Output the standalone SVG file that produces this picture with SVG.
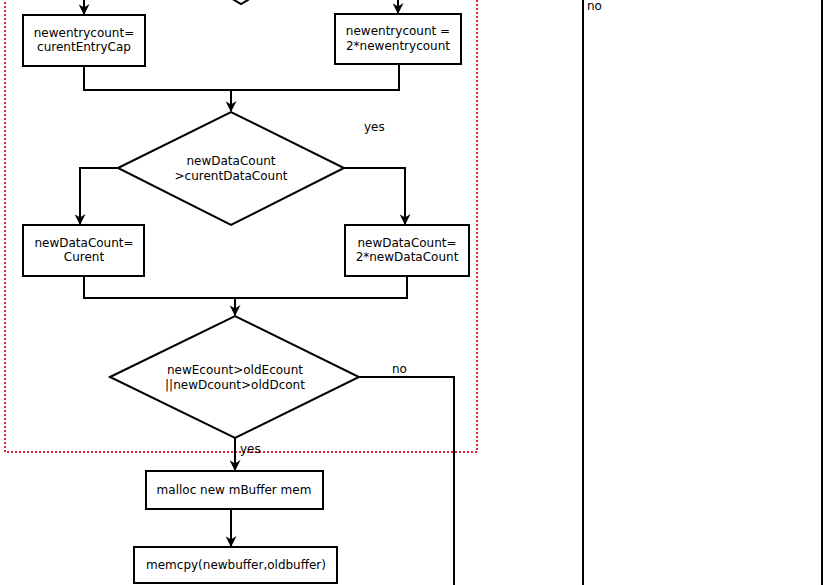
<svg xmlns="http://www.w3.org/2000/svg" width="828" height="585" viewBox="0 0 828 585">
<defs>
<marker id="arr" viewBox="0 0 10 10" refX="9" refY="5" markerWidth="11" markerHeight="11" markerUnits="userSpaceOnUse" orient="auto">
<path d="M0,0 L10,5 L0,10 L3,5 Z" fill="#000"/>
</marker>
</defs>
<style>
.box{fill:#fff;stroke:#000;stroke-width:2}
.ln{fill:none;stroke:#000;stroke-width:2}
.t{font-family:"DejaVu Sans",sans-serif;font-size:12px;fill:#000;text-anchor:middle}
.l{font-family:"DejaVu Sans",sans-serif;font-size:12px;fill:#000}
.grp{fill:none;stroke:#e8203c;stroke-width:2;stroke-dasharray:2 2}
</style>
<rect width="828" height="585" fill="#fff"/>
<rect id="group" class="grp" x="5" y="-20" width="472" height="472"/>
<g id="connectors">
<path class="ln" d="M84,-10 V14" marker-end="url(#arr)"/>
<path class="ln" d="M398,-10 V13" marker-end="url(#arr)"/>
<path class="ln" d="M84,66 V90 H399 V64"/>
<path class="ln" d="M231,90 V111" marker-end="url(#arr)"/>
<path class="ln" d="M118,168 H80 V224" marker-end="url(#arr)"/>
<path class="ln" d="M344,168 H405 V224" marker-end="url(#arr)"/>
<path class="ln" d="M84,276 V298 H407 V276"/>
<path class="ln" d="M235,298 V315" marker-end="url(#arr)"/>
<path class="ln" d="M359,377 H454 V590"/>
<path class="ln" d="M235,438 V470" marker-end="url(#arr)"/>
<path class="ln" d="M231,509 V546" marker-end="url(#arr)"/>
<path class="ln" d="M583,-5 V590"/>
<path class="ln" d="M822,-5 V590"/>
</g>
<g id="n0"><path class="box" d="M200,-20 L241,4 L282,-20"/></g>
<g id="n1"><rect class="box" x="23" y="15" width="122" height="51"/><text class="t" x="84" y="37">newentrycount=</text><text class="t" x="84" y="51">curentEntryCap</text></g>
<g id="n2"><rect class="box" x="335" y="14" width="126" height="50"/><text class="t" x="398" y="35">newentrycount =</text><text class="t" x="398" y="50">2*newentrycount</text></g>
<g id="n3"><path class="box" d="M118,168 L231,112 L344,168 L231,225 Z"/><text class="t" x="231" y="165">newDataCount</text><text class="t" x="231" y="180">&gt;curentDataCount</text></g>
<g id="n4"><rect class="box" x="23" y="225" width="121" height="51"/><text class="t" x="84" y="247">newDataCount=</text><text class="t" x="84" y="261">Curent</text></g>
<g id="n5"><rect class="box" x="345" y="225" width="124" height="51"/><text class="t" x="407" y="247">newDataCount=</text><text class="t" x="407" y="261">2*newDataCount</text></g>
<g id="n6"><path class="box" d="M110,377 L235,316 L359,377 L235,438 Z"/><text class="t" x="235" y="374">newEcount&gt;oldEcount</text><text class="t" x="235" y="389">||newDcount&gt;oldDcont</text></g>
<g id="n7"><rect class="box" x="146" y="471" width="177" height="38"/><text class="t" x="234" y="494">malloc new mBuffer mem</text></g>
<g id="n8"><rect class="box" x="134" y="547" width="203" height="36"/><text class="t" x="236" y="569">memcpy(newbuffer,oldbuffer)</text></g>
<text class="l" x="364" y="131">yes</text>
<text class="l" x="392" y="373">no</text>
<text class="l" x="240" y="453">yes</text>
<text class="l" x="587" y="10">no</text>
</svg>
